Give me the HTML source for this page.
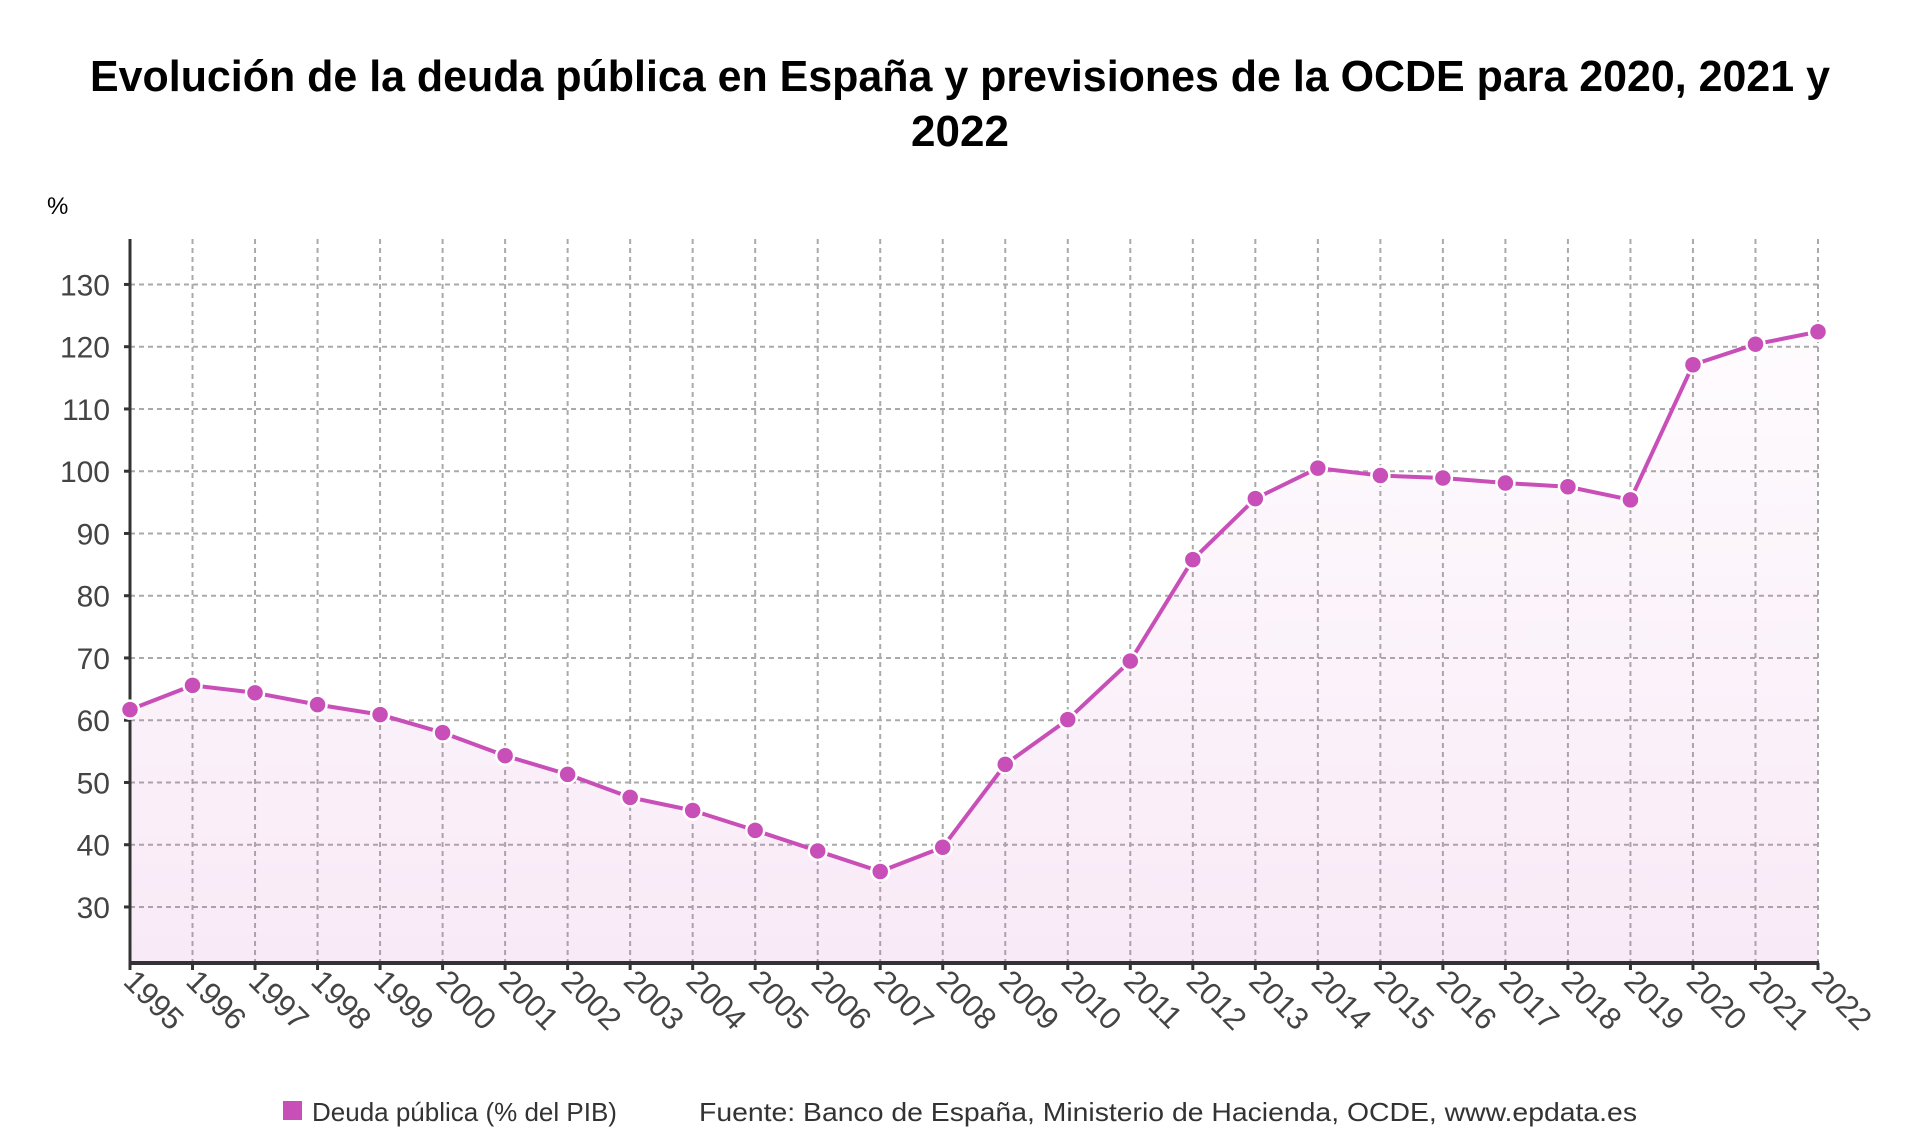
<!DOCTYPE html>
<html><head><meta charset="utf-8"><style>
html,body{margin:0;padding:0;background:#fff;}
svg{display:block;font-family:"Liberation Sans",sans-serif;}
</style></head><body>
<svg id="chart" width="1920" height="1127" viewBox="0 0 1920 1127">
  <defs>
    <linearGradient id="fillg" x1="0" y1="0" x2="0" y2="1">
      <stop offset="0" stop-color="#c94fb8" stop-opacity="0.02"/>
      <stop offset="1" stop-color="#c94fb8" stop-opacity="0.12"/>
    </linearGradient>
  </defs>
  <text x="960" y="91" text-anchor="middle" font-size="44" font-weight="bold" fill="#000" textLength="1740" lengthAdjust="spacingAndGlyphs">Evolución de la deuda pública en España y previsiones de la OCDE para 2020, 2021 y</text>
  <text x="960" y="146" text-anchor="middle" font-size="44" font-weight="bold" fill="#000">2022</text>
  <text x="47" y="214" font-size="24" fill="#000">%</text>
  <g id="grid"></g>
  <g id="area"></g>
  <g id="axes"></g>
  <g id="series"></g>
  <g id="xlabels"></g>
  <g id="ylabels"></g>
  <rect x="283" y="1101" width="19" height="19" fill="#c94fb8"/>
  <text x="312" y="1121" font-size="26" fill="#333">Deuda pública (% del PIB)</text>
  <text x="699" y="1121" font-size="26" fill="#333" textLength="938" lengthAdjust="spacingAndGlyphs">Fuente: Banco de España, Ministerio de Hacienda, OCDE, www.epdata.es</text>
</svg>
<script>
const years = [1995,1996,1997,1998,1999,2000,2001,2002,2003,2004,2005,2006,2007,2008,2009,2010,2011,2012,2013,2014,2015,2016,2017,2018,2019,2020,2021,2022];
const debtValues = [61.7,65.6,64.4,62.5,60.9,58.0,54.3,51.3,47.6,45.5,42.3,39.0,35.7,39.6,52.9,60.1,69.5,85.8,95.6,100.5,99.3,98.9,98.1,97.5,95.4,117.1,120.4,122.4];
const yTicks = [30,40,50,60,70,80,90,100,110,120,130];

const NS='http://www.w3.org/2000/svg';
const X0=130, X1=1818, YB=963, YT=239;
const yMin=21, yMax=137.3;
const xs=i=>X0+(X1-X0)*i/(years.length-1);
const ys=v=>YB-(v-yMin)*(YB-YT)/(yMax-yMin);
function mk(tag,attrs,parent){const e=document.createElementNS(NS,tag);for(const k in attrs)e.setAttribute(k,attrs[k]);parent.appendChild(e);return e;}
const grid=document.getElementById('grid'),area=document.getElementById('area'),axes=document.getElementById('axes'),series=document.getElementById('series'),xl=document.getElementById('xlabels'),yl=document.getElementById('ylabels');

yTicks.forEach(t=>{
  const y=ys(t);
  const l=mk('line',{x1:X0,x2:X1,y1:y,y2:y,stroke:'#aaa','stroke-width':2,'stroke-dasharray':'5,4'},grid);
  
  
  const tk=mk('line',{x1:X0-6,x2:X0,y1:y,y2:y,stroke:'#333','stroke-width':3},axes);
  
  
  const tx=mk('text',{x:110,y:y+11,'text-anchor':'end','font-size':30,fill:'#444'},yl);
  tx.textContent=t;
  
  
});
years.forEach((yr,i)=>{
  const x=xs(i);
  const l=mk('line',{x1:x,x2:x,y1:YT,y2:YB,stroke:'#aaa','stroke-width':2,'stroke-dasharray':'5,4'},grid);
  
  
  const tk=mk('line',{x1:x,x2:x,y1:YB,y2:YB+7,stroke:'#333','stroke-width':3},axes);
  
  
  const tx=mk('text',{x:0,y:0,'font-size':31,fill:'#444',transform:`translate(${x-8},${YB+20}) rotate(45)`},xl);
  tx.textContent=yr;
  
  
});
let d=`M${X0},${YB}`;
debtValues.forEach((v,i)=>{d+=` L${xs(i)},${ys(v)}`;});
d+=` L${xs(debtValues.length-1)},${YB} Z`;
const ar=mk('path',{d:d,fill:'url(#fillg)'},area);


const ya=mk('line',{x1:X0,x2:X0,y1:YT,y2:YB,stroke:'#333','stroke-width':3},axes);


const xa=mk('line',{x1:X0-1,x2:X1+1,y1:YB,y2:YB,stroke:'#333','stroke-width':4},axes);


const pts=debtValues.map((v,i)=>`${xs(i)},${ys(v)}`).join(' ');
const ln=mk('polyline',{points:pts,fill:'none',stroke:'#c94fb8','stroke-width':4,'stroke-linejoin':'round'},series);


debtValues.forEach((v,i)=>{
  const c=mk('circle',{cx:xs(i),cy:ys(v),r:9,fill:'#c94fb8',stroke:'#fff','stroke-width':2.5},series);
  
  
});
</script>
</body></html>
